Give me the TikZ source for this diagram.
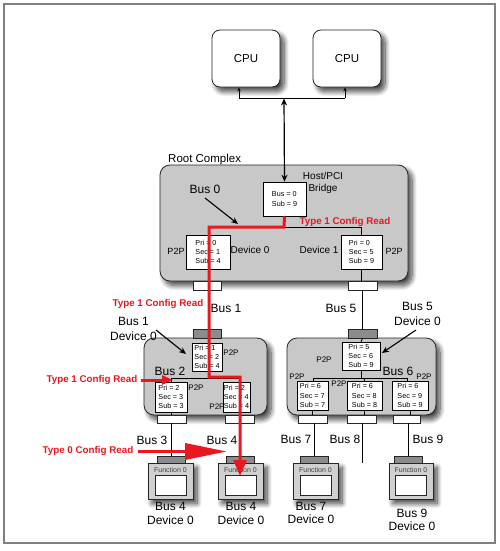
\documentclass[tikz,border=0pt]{standalone}
\usepackage{fontspec}
\setmainfont{Liberation Sans}
\usetikzlibrary{shadows.blur,arrows.meta}
\definecolor{cfgred}{RGB}{232,24,30}
\definecolor{cplx}{RGB}{200,200,200}
\definecolor{tabdark}{RGB}{140,140,140}
\definecolor{fouter}{RGB}{208,208,208}
\begin{document}
\begin{tikzpicture}[x=1pt,y=-1pt,
  lbl/.style={font=\fontsize{11.5}{15}\selectfont, inner sep=0, align=center},
  ptp/.style={font=\fontsize{8}{9}\selectfont, inner sep=0},
  redlbl/.style={font=\bfseries\fontsize{9.8}{11}\selectfont, text=cfgred, inner sep=0},
  regbox/.style={draw=black, fill=white, line width=0.6, align=left, font=\fontsize{7.2}{9.3}\selectfont, inner sep=1pt, minimum height=28},
  shad/.style={blur shadow={shadow xshift=4pt,shadow yshift=-4.5pt,shadow blur steps=10,shadow blur radius=5pt,shadow opacity=75}},
  cplxbox/.style={draw=black!85, fill=cplx, rounded corners=10, line width=0.8, shad},
  cpubox/.style={draw=black!85, fill=white, rounded corners=8, line width=0.8, shad, font=\fontsize{11.5}{13}\selectfont},
  wtab/.style={draw=black!85, fill=white, line width=0.6, minimum height=8, inner sep=0},
  dtab/.style={draw=black!85, fill=tabdark, line width=0.6, minimum height=9, inner sep=0},
  fout/.style={draw=black!85, fill=fouter, line width=0.8, minimum width=45, minimum height=36, inner sep=0, shad},
  fin/.style={draw=black!85, fill=white, line width=0.6, minimum width=31, minimum height=20, inner sep=0},
  ftab/.style={draw=black!85, fill=tabdark, line width=0.6, minimum width=28, minimum height=7, inner sep=0},
  ftxt/.style={font=\fontsize{7}{7}\selectfont, text=black!75, inner sep=0},
  bus/.style={draw=black, line width=0.9},
  redpath/.style={draw=cfgred, line width=3},
  blkarrow/.style={draw=black, line width=1.1, -{Stealth[length=7pt,width=6pt]}}
]
\useasboundingbox (0,0) rectangle (500,551);
\node[draw=black!50, line width=1.5, minimum width=491, minimum height=539, inner sep=0] (frame) at (249.5,273.5) {};

% CPUs
\node[cpubox, minimum width=68, minimum height=57] (cpuA) at (246,58.5) {CPU};
\node[cpubox, minimum width=68, minimum height=57] (cpuB) at (347,58.5) {CPU};
\coordinate (cb1) at (239,98);
\coordinate (cb2) at (345,98);
\coordinate (cbm) at (284,98.5);
\draw[bus] (cb1) -- (cb2);
\draw[bus, -{Stealth[length=4pt,width=3.5pt]}] (cb1) -- (cb1 |- cpuA.south);
\draw[bus, -{Stealth[length=4pt,width=3.5pt]}] (cb2) -- (cb2 |- cpuB.south);

% complexes
\node[cplxbox, minimum width=248, minimum height=116] (root) at (284,223) {};
\node[cplxbox, minimum width=123, minimum height=77] (cL) at (205.5,376.5) {};
\node[cplxbox, minimum width=149, minimum height=77] (cR) at (361.5,376.5) {};
\node[lbl, anchor=west] (rclbl) at (168,160) {Root Complex};

% tabs
\node[wtab, minimum width=28, minimum height=9] (t0L) at (207,285.5) {};
\node[wtab, minimum width=29, minimum height=9] (t0R) at (362.5,285.5) {};
\node[dtab, minimum width=28] (t1) at (207,333.5) {};
\node[dtab, minimum width=29] (t5) at (362.5,333.5) {};
\node[wtab, minimum width=29] (t3) at (172,419) {};
\node[wtab, minimum width=29] (t4) at (240,419) {};
\node[wtab, minimum width=29] (t7) at (312.5,419) {};
\node[wtab, minimum width=29] (t8) at (361.5,419) {};
\node[wtab, minimum width=27] (t9) at (406.5,419) {};

% host bridge
\node[regbox, minimum width=43, minimum height=34] (host) at (284.5,199) {Bus = 0\\Sub = 9};
\node[font=\fontsize{10}{12}\selectfont, inner sep=0, align=center] (hostlbl) at (323,183) {Host/PCI\\Bridge};
\draw[bus, line width=1.2, {Stealth[length=7pt,width=6pt]}-{Stealth[length=7pt,width=6pt]}] (cbm) -- (host.north);

% bus 0 wiring
\coordinate (r1) at (284,227);
\coordinate (r2) at (209,227);
\coordinate (b0R) at (361.5,227);
\draw[bus] (r1) -- (b0R);

% root devices
\node[regbox, minimum width=44, minimum height=34] (d0) at (208,252) {Pri = 0\\Sec = 1\\Sub = 4};
\node[regbox, minimum width=41, minimum height=34] (d1) at (361.5,252) {Pri = 0\\Sec = 5\\Sub = 9};
\draw[bus] (b0R) -- (d1.north);
\draw[bus] (d1.south) -- (d1.south |- t0R.north);
\draw[bus] (t0R.south) -- (t5.north);

\node[ptp, font=\fontsize{9}{10}\selectfont] (p0) at (176,251) {P2P};
\node[lbl, font=\fontsize{10}{12}\selectfont] (dv0) at (250,250) {Device 0};
\node[lbl, font=\fontsize{10}{12}\selectfont] (dv1) at (319,250) {Device 1};
\node[ptp, font=\fontsize{9}{10}\selectfont] (p1) at (394,251) {P2P};
\node[lbl, font=\fontsize{12}{14}\selectfont] (bus0) at (205,189) {Bus 0};
\draw[blkarrow] (205,198) -- (238,224);
\node[redlbl] (rl1) at (345,222) {Type 1 Config Read};

% labels between
\node[redlbl] (rl2) at (158,304) {Type 1 Config Read};
\node[lbl, font=\fontsize{12}{14}\selectfont] (bus1) at (226,308) {Bus 1};
\node[lbl, font=\fontsize{12}{14}\selectfont] (bus5) at (341,308) {Bus 5};
\node[lbl, font=\fontsize{12}{15}\selectfont] (b1d0) at (133.5,329) {Bus 1\\Device 0};
\node[lbl, font=\fontsize{12}{15}\selectfont] (b5d0) at (417.5,314) {Bus 5\\Device 0};
\draw[blkarrow] (156,330) -- (186,354);
\draw[blkarrow] (416,330) -- (382,353);

% lower-left complex
\node[regbox, minimum width=30, minimum height=28] (d2) at (207,357) {Pri = 1\\Sec = 2\\Sub = 4};
\node[ptp] (p2) at (231,353) {P2P};
\coordinate (b2L) at (171,378);
\coordinate (b2R) at (240,378);
\draw[bus] (b2L) -- (b2R);
\node[regbox, minimum width=32, minimum height=30] (d3) at (171,397) {Pri = 2\\Sec = 3\\Sub = 3};
\node[regbox, minimum width=24, minimum height=30] (d4) at (236.5,397) {Pri = 2\\Sec = 4\\Sub = 4};
\draw[bus] (b2L) -- (d3.north);
\draw[bus] (d3.south) -- (d3.south |- t3.north);
\node[ptp] (p3) at (196,388) {P2P};
\node[ptp] (p4) at (217,407) {P2P};
\node[lbl, font=\fontsize{12}{14}\selectfont] (bus2) at (170,371) {Bus 2};
\node[redlbl] (rl3) at (92,380) {Type 1 Config Read};
\coordinate (ra1) at (141,380);
\draw[cfgred, line width=3, -{Triangle[length=11pt,width=9pt]}] (ra1) -- (173,380);

% lower-right complex
\node[regbox, minimum width=38, minimum height=28] (d5) at (361,356) {Pri = 5\\Sec = 6\\Sub = 9};
\node[ptp] (p5) at (324,360) {P2P};
\draw[bus] (t5.south) -- (d5.north);
\coordinate (b6L) at (313,378);
\coordinate (b6R) at (407,378);
\draw[bus] (d5.south) -- (d5.south |- b6L);
\draw[bus] (b6L) -- (b6R);
\node[regbox, minimum width=31, minimum height=29] (d6) at (312.5,395.5) {Pri = 6\\Sec = 7\\Sub = 7};
\node[regbox, minimum width=35, minimum height=29] (d7) at (364.5,395.5) {Pri = 6\\Sec = 8\\Sub = 8};
\node[regbox, minimum width=36, minimum height=29] (d8) at (410,395.5) {Pri = 6\\Sec = 9\\Sub = 9};
\draw[bus] (b6L) -- (b6L |- d6.north);
\draw[bus] (364,378) -- (d7.north);
\draw[bus] (b6R) -- (b6R |- d8.north);
\draw[bus] (d6.south) -- (d6.south |- t7.north);
\draw[bus] (d7.south) -- (d7.south |- t8.north);
\draw[bus] (d8.south) -- (d8.south |- t9.north);
\node[ptp] (p6) at (297,377) {P2P};
\node[ptp] (p7) at (339,384) {P2P};
\node[ptp] (p8) at (424,377) {P2P};
\node[lbl, font=\fontsize{12}{14}\selectfont] (bus6) at (398,371) {Bus 6};

% function devices
\node[fout] (f1) at (170.5,481) {};
\node[ftab] (f1t) at (171,459.5) {};
\node[fin] (f1i) at (170.5,485.5) {};
\node[ftxt] (f1x) at (170.5,469.5) {Function 0};
\node[fout] (f2) at (240.5,481) {};
\node[ftab] (f2t) at (240,459.5) {};
\node[fin] (f2i) at (240.5,485.5) {};
\node[ftxt] (f2x) at (240.5,469.5) {Function 0};
\node[fout] (f3) at (315.5,481) {};
\node[ftab] (f3t) at (314,459.5) {};
\node[fin] (f3i) at (315.5,485.5) {};
\node[ftxt] (f3x) at (315.5,469.5) {Function 0};
\node[fout, minimum width=44] (f4) at (411,481) {};
\node[ftab] (f4t) at (408,459.5) {};
\node[fin] (f4i) at (411,485.5) {};
\node[ftxt] (f4x) at (411,469.5) {Function 0};

\draw[bus] (t3.south -| f1t.north) -- (f1t.north);
\draw[bus] (t7.south -| f3t.north) -- (f3t.north);
\coordinate (b8end) at (362,463);
\draw[bus] (t8.south -| b8end) -- (b8end);
\draw[bus] (t9.south -| f4t.north) -- (f4t.north);

\node[lbl, font=\fontsize{12}{14}\selectfont] (bus3) at (152,440) {Bus 3};
\node[lbl, font=\fontsize{12}{14}\selectfont] (bus4) at (222,440) {Bus 4};
\node[lbl, font=\fontsize{12}{14}\selectfont] (bus7) at (296,439) {Bus 7};
\node[lbl, font=\fontsize{12}{14}\selectfont] (bus8) at (345,439) {Bus 8};
\node[lbl, font=\fontsize{12}{14}\selectfont] (bus9) at (428,439) {Bus 9};

\node[lbl, font=\fontsize{12}{13.5}\selectfont] (f1l) at (170.5,513.5) {Bus 4\\Device 0};
\node[lbl, font=\fontsize{12}{13.5}\selectfont] (f2l) at (241,513.5) {Bus 4\\Device 0};
\node[lbl, font=\fontsize{12}{13.5}\selectfont] (f3l) at (311,513) {Bus 7\\Device 0};
\node[lbl, font=\fontsize{12}{13.5}\selectfont] (f4l) at (412,520) {Bus 9\\Device 0};

% red path
\draw[redpath, -{Triangle[length=16pt,width=13pt]}] (host.south) -- (r1) -- (r2) -- (209,377) -- (240,377) -- (240,476);

% type 0
\node[redlbl] (rl4) at (88,451) {Type 0 Config Read};
\coordinate (ra2) at (138,451.5);
\draw[cfgred, line width=3.5, -{Triangle[length=42pt,width=16pt]}] (ra2) -- (227,451.5);
\end{tikzpicture}
\end{document}
